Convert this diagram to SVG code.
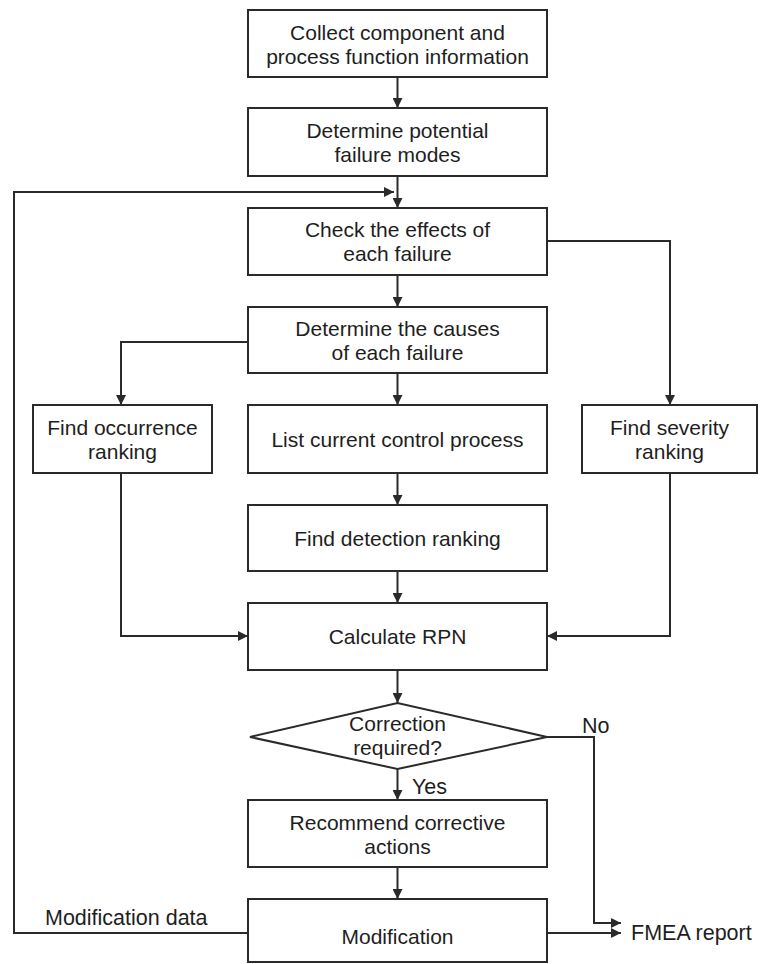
<svg xmlns="http://www.w3.org/2000/svg" width="760" height="964" viewBox="0 0 760 964">
<style>
.box{fill:#fff;stroke:#2a2a2a;stroke-width:2}
.t{font-family:"Liberation Sans",Arial,sans-serif;font-size:21px;fill:#1e1e1e;text-anchor:middle}
.l{font-family:"Liberation Sans",Arial,sans-serif;font-size:21.5px;fill:#1e1e1e}
.c{fill:none;stroke:#2a2a2a;stroke-width:2}
</style>
<defs>
<marker id="ah" viewBox="0 0 10 10" refX="10" refY="5" markerWidth="5" markerHeight="5" markerUnits="strokeWidth" orient="auto">
<path d="M0,0 L10,5 L0,10 z" fill="#2a2a2a"/>
</marker>
</defs>
<rect width="760" height="964" fill="#fff"/>
<g id="connectors">
<path class="c" d="M397.5,77 V108" marker-end="url(#ah)"/>
<path class="c" d="M397.5,176 V208" marker-end="url(#ah)"/>
<path class="c" d="M248,933 H14 V192 H394" marker-end="url(#ah)"/>
<path class="c" d="M397.5,275 V307" marker-end="url(#ah)"/>
<path class="c" d="M547,241 H670 V405" marker-end="url(#ah)"/>
<path class="c" d="M248,342 H121 V405" marker-end="url(#ah)"/>
<path class="c" d="M397.5,373 V405" marker-end="url(#ah)"/>
<path class="c" d="M397.5,473 V505" marker-end="url(#ah)"/>
<path class="c" d="M397.5,571 V603" marker-end="url(#ah)"/>
<path class="c" d="M121,473 V636 H248" marker-end="url(#ah)"/>
<path class="c" d="M670,473 V636 H547" marker-end="url(#ah)"/>
<path class="c" d="M397.5,670 V703" marker-end="url(#ah)"/>
<path class="c" d="M397.5,769 V800" marker-end="url(#ah)"/>
<path class="c" d="M547,737 H594 V923 H621" marker-end="url(#ah)"/>
<path class="c" d="M397.5,867 V899" marker-end="url(#ah)"/>
<path class="c" d="M547,933 H621" marker-end="url(#ah)"/>
<text class="l" x="582" y="733">No</text>
<text class="l" x="412" y="794">Yes</text>
<text class="l" x="45" y="925">Modification data</text>
<text class="l" x="631" y="940">FMEA report</text>
</g>
<g id="collect">
<rect class="box" x="248" y="10" width="299" height="67"/>
<text class="t" x="397.5" y="40">Collect component and</text>
<text class="t" x="397.5" y="64">process function information</text>
</g>
<g id="failure-modes">
<rect class="box" x="248" y="108" width="299" height="68"/>
<text class="t" x="397.5" y="138">Determine potential</text>
<text class="t" x="397.5" y="162">failure modes</text>
</g>
<g id="effects">
<rect class="box" x="248" y="208" width="299" height="67"/>
<text class="t" x="397.5" y="237">Check the effects of</text>
<text class="t" x="397.5" y="261">each failure</text>
</g>
<g id="causes">
<rect class="box" x="248" y="307" width="299" height="66"/>
<text class="t" x="397.5" y="336">Determine the causes</text>
<text class="t" x="397.5" y="360">of each failure</text>
</g>
<g id="occurrence">
<rect class="box" x="33" y="405" width="179" height="68"/>
<text class="t" x="122.5" y="435">Find occurrence</text>
<text class="t" x="122.5" y="459">ranking</text>
</g>
<g id="control">
<rect class="box" x="248" y="405" width="299" height="68"/>
<text class="t" x="397.5" y="447">List current control process</text>
</g>
<g id="severity">
<rect class="box" x="582" y="405" width="175" height="68"/>
<text class="t" x="669.5" y="435">Find severity</text>
<text class="t" x="669.5" y="459">ranking</text>
</g>
<g id="detection">
<rect class="box" x="248" y="505" width="299" height="66"/>
<text class="t" x="397.5" y="546">Find detection ranking</text>
</g>
<g id="rpn">
<rect class="box" x="248" y="603" width="299" height="67"/>
<text class="t" x="397.5" y="644">Calculate RPN</text>
</g>
<g id="decision">
<polygon class="box" points="250,737 397.5,703 547,737 397.5,769"/>
<text class="t" x="397.5" y="731">Correction</text>
<text class="t" x="397.5" y="755">required?</text>
</g>
<g id="recommend">
<rect class="box" x="248" y="800" width="299" height="67"/>
<text class="t" x="397.5" y="830">Recommend corrective</text>
<text class="t" x="397.5" y="854">actions</text>
</g>
<g id="modification">
<rect class="box" x="248" y="899" width="299" height="63"/>
<text class="t" x="397.5" y="944">Modification</text>
</g>
</svg>
